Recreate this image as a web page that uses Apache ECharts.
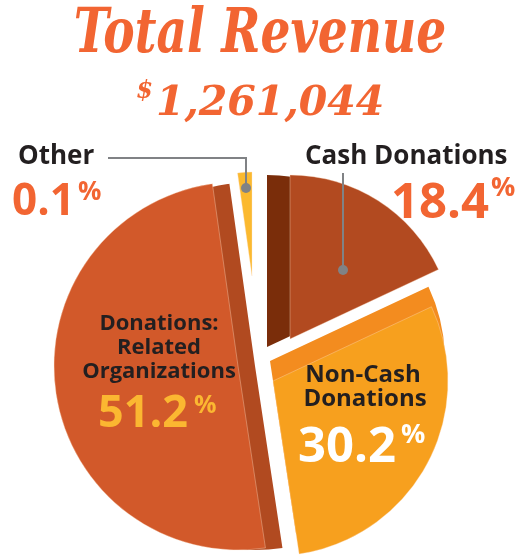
<!DOCTYPE html>
<html>
<head>
<meta charset="utf-8">
<script src="https://cdn.jsdelivr.net/npm/echarts@6/dist/echarts.min.js"></script>
<style>
html,body{margin:0;padding:0;background:#fff;}
#chart{width:517px;height:556px;}
</style>
</head>
<body>
<div id="chart"></div>
<script>
// ---- data ----
const categories = ['Cash Donations', 'Non-Cash Donations', 'Donations: Related Organizations', 'Other'];
const shares = [18.4, 30.2, 51.2, 0.1];
const totalRevenue = '1,261,044';
const titleText = 'Total Revenue';

// ---- styles ----
const faceColors = ['#b24a20', '#f7a01e', '#d2592a', '#fbb92f'];
const sideColors = ['#7a2d0a', '#f38c1f', '#b14a20', null];
const MIN_ANGLE = 8;
// per-slice layout (exploded, with a 3D side face)
const sliceLayout = [
  {cx: 290, cy: 339, r: 164, sx: -23, sy: 8, sr: 8},
  {cx: 273, cy: 381, r: 175, sx: -3, sy: -20, sr: 0},
  {cx: 238, cy: 366, r: 184, sx: 17, sy: 0, sr: 0},
  {cx: 252, cy: 276, r: 104, sx: 0, sy: 0, sr: 0}
];

function sliceSeries(i, layer) {
  const L = sliceLayout[i];
  const isSide = layer === 'side';
  const center = isSide ? [L.cx + L.sx, L.cy + L.sy] : [L.cx, L.cy];
  return {
    type: 'pie',
    name: categories[i] + (isSide ? ' side' : ''),
    silent: true,
    animation: false,
    startAngle: 90,
    clockwise: true,
    minAngle: MIN_ANGLE,
    center: center,
    radius: [0, isSide ? L.r + L.sr : L.r],
    label: {show: false},
    labelLine: {show: false},
    emphasis: {disabled: true},
    data: categories.map((name, j) => ({
      name: name,
      value: shares[j],
      itemStyle: {
        color: j === i ? (isSide ? sideColors[i] : faceColors[i]) : 'rgba(0,0,0,0)',
        borderWidth: (j === i && !isSide) ? 0.8 : 0,
        borderColor: 'rgba(255,225,200,0.45)'
      }
    }))
  };
}

const series = [];
[2, 1, 0, 3].forEach(i => {
  if (sideColors[i]) series.push(sliceSeries(i, 'side'));
  series.push(sliceSeries(i, 'face'));
});

const pct = v => v.toFixed(1);
const sans = '"Open Sans", "DejaVu Sans", sans-serif';
const black = '#231f20';
const orange = '#f26532';
const grey = '#808285';

function txt(text, x, y, size, color, align, extra) {
  return Object.assign({
    type: 'text', x: x, y: y, z: 100,
    style: {text: text, fill: color, font: 'bold ' + size + 'px ' + sans,
            align: align || 'left', verticalAlign: 'middle'}
  }, extra || {});
}

const graphics = [
  // title
  {type: 'text', x: 260, y: 36, z: 100, scaleX: 0.76,
   style: {text: titleText, fill: orange, font: 'italic bold 62px "DejaVu Serif", serif', align: 'center', verticalAlign: 'middle'}},
  {type: 'text', x: 156, y: 104, z: 100,
   style: {text: totalRevenue, fill: orange, font: 'italic bold 41px "DejaVu Serif", serif', align: 'left', verticalAlign: 'middle'}},
  {type: 'text', x: 153, y: 92, z: 100,
   style: {text: '$', fill: orange, font: 'italic bold 24px "DejaVu Serif", serif', align: 'right', verticalAlign: 'middle'}},

  // Other
  txt('Other', 18, 157, 26, black),
  txt(pct(shares[3]), 12, 202, 44, orange),
  txt('%', 78, 193, 26, orange),
  {type: 'polyline', z: 90, shape: {points: [[108, 158], [246, 158], [246, 188]]},
   style: {stroke: grey, lineWidth: 2, fill: null}},
  {type: 'circle', z: 91, shape: {cx: 246, cy: 188, r: 5}, style: {fill: grey}},

  // Cash
  txt('Cash Donations', 305, 157, 26, black),
  txt(pct(shares[0]), 391, 204, 49, orange),
  txt('%', 491, 188, 27, orange),
  {type: 'line', z: 90, shape: {x1: 343, y1: 173, x2: 343, y2: 270},
   style: {stroke: grey, lineWidth: 2}},
  {type: 'circle', z: 91, shape: {cx: 343, cy: 270, r: 5}, style: {fill: grey}},

  // Related organizations
  txt('Donations:', 159, 324, 22, black, 'center'),
  txt('Related', 159, 348, 22, black, 'center'),
  txt('Organizations', 159, 372, 22, black, 'center'),
  txt(pct(shares[2]), 98, 414, 45, '#fbb731'),
  txt('%', 194, 406, 25, '#fbb731'),

  // Non-cash
  txt('Non-Cash', 363, 375, 24, black, 'center'),
  txt('Donations', 365, 399, 24, black, 'center'),
  txt(pct(shares[1]), 298, 448, 49, '#ffffff'),
  txt('%', 401, 435, 27, '#ffffff')
];

const chart = echarts.init(document.getElementById('chart'), null, {renderer: 'canvas'});
chart.setOption({
  backgroundColor: '#ffffff',
  animation: false,
  series: series,
  graphic: graphics
});
</script>
</body>
</html>
